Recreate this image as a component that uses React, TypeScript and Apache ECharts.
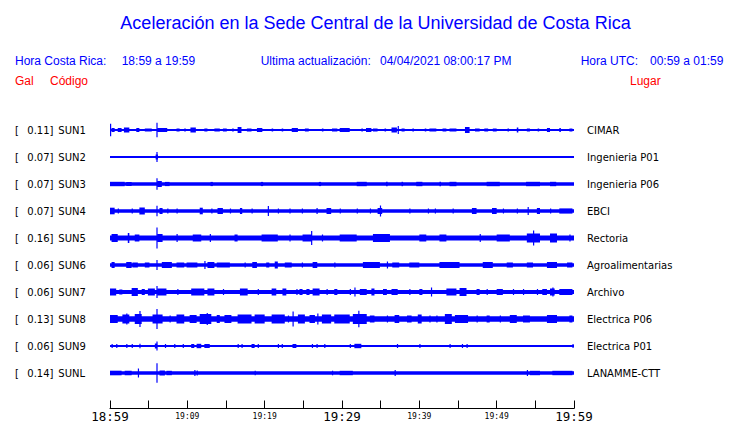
import React, { useEffect, useRef } from "react";
import * as echarts from "echarts";

// ---- data ----
const STATION_CODES = ["SUN1", "SUN2", "SUN3", "SUN4", "SUN5", "SUN6", "SUN7", "SUN8", "SUN9", "SUNL"];
const PEAK_GAL = ["0.11", "0.07", "0.07", "0.07", "0.16", "0.06", "0.06", "0.13", "0.06", "0.14"];
const PLACES = ["CIMAR", "Ingenieria P01", "Ingenieria P06", "EBCI", "Rectoria", "Agroalimentarias", "Archivo", "Electrica P06", "Electrica P01", "LANAMME-CTT"];
const TIME_LABELS = ["18:59", "19:09", "19:19", "19:29", "19:39", "19:49", "19:59"];
const WINDOW_MINUTES = 60;
// amplitude units: one row spacing = 27 units
const ROW_SPAN = 27;
const BASE_AMP = [0.9, 0.9, 1.8, 1.7, 2.4, 1.7, 1.9, 2.7, 0.9, 1.7];

// events: [start minute, end minute, half amplitude]
const SUN1_EVENTS = [
  [0, 0.1, 6.3], [0.2, 0.6, 2], [1.0, 1.5, 2], [1.8, 2.5, 2.5], [3.4, 3.8, 2], [4.5, 5.4, 1.5],
  [6.0, 6.1, 7.3], [6.1, 7.4, 2], [8.6, 9.0, 1.5], [9.6, 9.8, 1.5], [10.4, 11.1, 2.5], [12.2, 12.6, 1.5],
  [13.5, 14.2, 1.5], [14.6, 15.1, 1.5], [15.8, 16.0, 1.5], [16.5, 17.0, 3], [17.7, 18.3, 1.5], [19.0, 19.7, 2],
  [20.9, 21.1, 1.5], [22.2, 22.4, 1.5], [23.5, 24.3, 2], [25.2, 25.7, 1.5], [27.4, 27.6, 1.5], [28.7, 29.4, 1.5],
  [29.7, 31.0, 2], [32.5, 32.7, 1.5], [33.1, 33.8, 2], [34.0, 34.6, 1.5], [35.5, 35.7, 1.5], [36.4, 37.1, 2.5],
  [37.2, 37.3, 4], [37.7, 38.1, 1.5], [39.1, 39.3, 1.5], [40.7, 40.9, 1.5], [41.3, 42.2, 1.5], [43.0, 43.5, 1.5],
  [43.9, 44.8, 1.5], [45.9, 46.5, 3], [47.2, 47.8, 1.5], [48.4, 48.9, 1.5], [49.5, 50.0, 1.5], [51.4, 51.6, 1.5],
  [52.6, 52.8, 2.5], [53.9, 54.3, 1.5], [55.3, 55.5, 1.5], [56.5, 56.9, 2], [58.1, 58.3, 2], [59.4, 59.8, 1.5],
];
const SUN2_EVENTS = [[5.9, 6.2, 2.5], [6.0, 6.1, 5]];
const SUN3_EVENTS = [
  [0, 1.9, 2.2], [2.1, 2.8, 2], [6.0, 6.1, 5.8], [6.1, 6.7, 3], [7.1, 7.7, 2.1], [13.0, 13.3, 2.1],
  [19.5, 19.8, 2.1], [27.0, 27.3, 2.1], [31.9, 33.2, 2.2], [35.7, 35.9, 2.2], [37.7, 37.9, 2.2],
  [39.6, 40.4, 2.2], [42.6, 42.8, 2.2], [43.9, 44.8, 2.2], [48.7, 50.4, 2.2], [53.8, 55.6, 2.2], [56.9, 57.7, 2.2],
];
const SUN4_EVENTS = [
  [0, 0.6, 3.3], [1.0, 1.1, 2.5], [2.8, 2.9, 2.5], [3.8, 4.5, 3.5], [6.0, 6.1, 5.3], [6.4, 6.8, 3],
  [7.4, 7.5, 2.5], [8.6, 8.7, 2.5], [11.6, 12.0, 3.3], [13.1, 13.2, 2.5], [13.9, 14.6, 3], [15.5, 15.6, 2.5],
  [16.8, 17.1, 3], [18.3, 18.4, 2.5], [20.4, 20.5, 5], [21.7, 21.8, 2.5], [23.2, 23.3, 2.5], [24.8, 24.9, 2.5],
  [26.7, 26.8, 3], [28.0, 28.6, 3], [29.7, 29.8, 2.5], [31.9, 32.0, 2.5], [33.6, 33.7, 2.5], [34.6, 35.2, 3],
  [34.9, 35.0, 5.5], [38.7, 38.8, 2.5], [41.1, 41.2, 2.5], [42.0, 42.1, 2.5], [44.3, 44.4, 2.5], [46.8, 47.4, 3],
  [49.4, 50.0, 3], [50.8, 50.9, 2.5], [52.6, 52.7, 2.5], [54.0, 54.1, 4], [55.2, 55.6, 3], [56.9, 57.0, 2.5],
  [58.1, 59.8, 2.6],
];
const SUN5_EVENTS = [
  [0.2, 1.0, 4], [2.3, 2.5, 5], [3.2, 3.8, 3.5], [6.0, 6.1, 10.5], [6.1, 6.8, 4], [8.6, 8.7, 4],
  [10.7, 11.8, 3.5], [12.9, 13.0, 4], [16.1, 16.5, 3.5], [19.6, 21.7, 3.5], [23.2, 23.3, 3.5], [24.9, 26.1, 3.5],
  [26.0, 26.1, 7], [27.4, 27.5, 3.5], [29.7, 31.9, 3.5], [34.0, 36.2, 4], [40.0, 40.9, 3.5], [42.6, 43.5, 3.5],
  [47.8, 47.9, 4], [50.0, 51.7, 3.5], [53.9, 55.6, 4.5], [54.7, 54.8, 7.5], [56.9, 57.8, 4.5], [59.4, 59.5, 3.5],
];
const SUN6_EVENTS = [
  [0.2, 0.6, 3], [2.1, 2.8, 3], [2.9, 3.6, 2.5], [4.5, 5.1, 2.5], [6.0, 6.1, 5], [6.7, 8.0, 3],
  [8.6, 9.6, 2.5], [9.9, 11.3, 2.5], [12.2, 12.3, 4], [12.6, 13.5, 3], [13.8, 15.5, 2.5], [17.4, 17.5, 2.5],
  [18.4, 19.0, 3], [20.2, 20.6, 2.5], [21.3, 21.7, 3.5], [22.6, 23.5, 2.5], [24.8, 24.9, 2.5], [26.2, 26.8, 3],
  [29.0, 29.1, 2.5], [32.7, 34.9, 3], [35.8, 35.9, 3.5], [36.5, 37.4, 2.5], [38.7, 40.0, 2.5], [42.6, 45.2, 3],
  [48.2, 49.5, 3], [51.3, 52.1, 2.5], [53.9, 54.7, 2.5], [56.5, 57.8, 3], [59.1, 59.8, 2.5],
];
const SUN7_EVENTS = [
  [0, 0.8, 3.5], [1.2, 1.6, 2.5], [2.8, 3.6, 4], [4.1, 4.5, 3], [4.9, 5.8, 3.5], [6.0, 6.1, 6],
  [6.1, 7.3, 3.5], [8.7, 8.8, 3], [10.5, 12.2, 3.5], [12.6, 13.5, 3.5], [14.6, 14.7, 3], [16.8, 17.8, 3.5],
  [19.1, 19.2, 3], [20.9, 21.5, 3.5], [22.3, 22.8, 3.5], [24.1, 24.2, 3], [24.5, 24.9, 3], [25.4, 25.8, 3],
  [26.2, 27.1, 3.5], [28.0, 28.1, 3], [29.0, 29.4, 3], [31.0, 31.1, 3], [31.6, 31.7, 4.5], [32.3, 33.2, 3],
  [33.8, 34.2, 3.5], [35.3, 35.8, 3], [36.4, 37.2, 3], [38.7, 38.8, 3], [40.0, 40.4, 3], [41.5, 41.6, 4.5],
  [43.5, 44.8, 3.5], [45.2, 46.1, 4], [47.4, 47.8, 3], [48.7, 48.8, 3], [50.0, 50.8, 3], [52.1, 52.2, 3],
  [53.4, 53.5, 3], [55.2, 55.3, 3], [55.9, 56.5, 3], [56.9, 57.5, 3.5], [57.2, 57.3, 4.5], [58.1, 59.8, 3],
];
const SUN8_EVENTS = [
  [0, 1.0, 4], [1.6, 2.5, 4.5], [2.1, 2.2, 5.5], [3.2, 4.1, 5], [3.8, 3.9, 8], [5.5, 6.8, 4.5],
  [6.0, 6.1, 10], [7.7, 7.8, 3.5], [8.6, 9.6, 4.5], [10.3, 11.2, 4], [11.6, 13.1, 5], [12.5, 12.6, 6],
  [13.8, 14.2, 4], [14.8, 15.7, 4], [16.5, 18.3, 4.5], [18.7, 20.0, 4.5], [20.9, 22.6, 4.5], [23.0, 23.1, 3.5],
  [23.6, 23.7, 7.5], [24.3, 25.2, 4.5], [25.8, 26.5, 4], [26.8, 26.9, 5.5], [27.4, 28.6, 4.5], [29.0, 31.0, 4.5],
  [31.4, 33.2, 5], [32.1, 32.2, 8.3], [33.6, 34.2, 3.5], [35.8, 35.9, 3.5], [36.8, 37.4, 4], [38.4, 39.0, 3.5],
  [39.8, 40.3, 4.5], [41.3, 41.4, 3.5], [42.2, 42.3, 3.5], [43.3, 44.2, 5], [44.6, 46.3, 4], [47.4, 47.5, 3.5],
  [48.7, 49.1, 3.5], [50.4, 50.5, 3.5], [51.7, 52.6, 4], [53.4, 54.3, 3.5], [56.5, 57.8, 4], [59.4, 59.8, 3.5],
];
const SUN9_EVENTS = [
  [0.2, 0.3, 2], [0.8, 0.9, 2], [2.1, 2.2, 2], [2.8, 2.9, 2], [3.8, 3.9, 2.3], [5.8, 6.1, 2.5],
  [6.0, 6.1, 4.5], [7.1, 7.2, 2], [8.3, 8.4, 2], [9.4, 9.5, 2], [10.5, 10.9, 2], [11.2, 11.8, 2.2],
  [12.2, 12.9, 2], [16.5, 16.6, 2], [17.0, 17.1, 2], [18.3, 18.7, 2], [19.1, 19.2, 2], [21.7, 21.8, 2],
  [22.2, 22.3, 2], [23.6, 24.1, 2], [26.1, 26.2, 2], [26.7, 26.8, 2], [27.7, 27.8, 2], [31.0, 31.1, 2],
  [31.6, 32.5, 2.2], [37.1, 37.2, 2], [40.0, 40.1, 2], [43.9, 44.0, 2], [45.5, 45.6, 2], [46.1, 46.2, 2],
  [59.8, 59.9, 2],
];
const SUNL_EVENTS = [
  [0, 1.5, 2.3], [1.9, 2.8, 2.2], [3.6, 3.7, 4.5], [6.0, 6.1, 9.8], [6.4, 7.1, 2.5], [7.3, 8.0, 2.2],
  [10.9, 11.0, 3], [11.2, 11.3, 2.5], [18.7, 18.8, 2.3], [28.7, 28.8, 2.3], [29.7, 31.4, 2.2], [36.8, 36.9, 3],
  [53.9, 54.0, 3], [54.3, 55.6, 2.2], [57.2, 59.8, 2.2],
];
const EVENTS = [SUN1_EVENTS, SUN2_EVENTS, SUN3_EVENTS, SUN4_EVENTS, SUN5_EVENTS, SUN6_EVENTS, SUN7_EVENTS, SUN8_EVENTS, SUN9_EVENTS, SUNL_EVENTS];

const BLUE = "#0000ff";
const RED = "#ff0000";
const HEAD_FONT = "Liberation Sans";

export default function App() {
  const ref = useRef<HTMLDivElement>(null);
  useEffect(() => {
    if (!ref.current) return;
    const chart = echarts.init(ref.current, null, { renderer: "svg" });

    const traceData: number[][] = [];
    STATION_CODES.forEach((_, row) => {
      traceData.push([0, WINDOW_MINUTES, row, BASE_AMP[row]]);
      EVENTS[row].forEach((e) => traceData.push([e[0], e[1], row, e[2]]));
    });

    const headText = (text: string, x: number, y: number, fill: string, size = 12, align = "left") => ({
      type: "text",
      x,
      y,
      silent: true,
      style: { text, fill, fontSize: size, fontFamily: HEAD_FONT, align, verticalAlign: "middle" },
    });

    const labelFont = { fontFamily: "DejaVu Sans", fontSize: 10, color: "#000" };

    chart.setOption({
      animation: false,
      backgroundColor: "#fff",
      graphic: [
        headText("Aceleración en la Sede Central de la Universidad de Costa Rica", 375.5, 22.5, BLUE, 18, "center"),
        headText("Hora Costa Rica:", 15, 61, BLUE),
        headText("18:59 a 19:59", 121.7, 61, BLUE),
        headText("Ultima actualización:", 260.7, 61, BLUE),
        headText("04/04/2021 08:00:17 PM", 380, 61, BLUE),
        headText("Hora UTC:", 580.7, 61, BLUE),
        headText("00:59 a 01:59", 650, 61, BLUE),
        headText("Gal", 15, 81, RED),
        headText("Código", 50, 81, RED),
        headText("Lugar", 630, 81, RED),
      ],
      grid: [
        { left: 110, width: 464, top: 116.5, height: 270 },
        { left: 110, width: 464, top: 380, height: 29 },
      ],
      xAxis: [
        { type: "value", gridIndex: 0, min: 0, max: WINDOW_MINUTES, show: false },
        {
          type: "value",
          gridIndex: 1,
          min: 0,
          max: WINDOW_MINUTES,
          interval: 5,
          axisLine: { show: true, lineStyle: { color: "#000", width: 1 } },
          axisTick: { show: true, inside: true, length: 8, lineStyle: { color: "#000", width: 1 } },
          splitLine: { show: false },
          axisLabel: {
            margin: 1,
            showMinLabel: true,
            showMaxLabel: true,
            hideOverlap: false,
            formatter: (v: number) => {
              const m = Math.round(v);
              if (m % 10 !== 0) return "";
              const lab = TIME_LABELS[m / 10];
              return m % 30 === 0 ? `{big|${lab}}` : `{small|${lab}}`;
            },
            rich: {
              big: { fontFamily: "DejaVu Sans Mono", fontSize: 12.5, color: "#000", lineHeight: 14 },
              small: { fontFamily: "DejaVu Sans Mono", fontSize: 8, color: "#000", lineHeight: 14 },
            },
          },
        },
      ],
      yAxis: [
        {
          type: "category",
          gridIndex: 0,
          data: STATION_CODES,
          inverse: true,
          position: "left",
          axisLine: { show: false },
          axisTick: { show: false },
          splitLine: { show: false },
          axisLabel: {
            align: "left",
            margin: 95,
            formatter: (v: string, i: number) => `{a|[}{b|${PEAK_GAL[i]}]}{c|${v}}`,
            rich: {
              a: { ...labelFont, width: 12.3 },
              b: { ...labelFont, width: 31 },
              c: { ...labelFont },
            },
          },
        },
        {
          type: "category",
          gridIndex: 0,
          data: PLACES,
          inverse: true,
          position: "right",
          axisLine: { show: false },
          axisTick: { show: false },
          splitLine: { show: false },
          axisLabel: { align: "left", margin: 13, ...labelFont },
        },
        { type: "value", gridIndex: 1, show: false, min: 0, max: 1 },
      ],
      series: [
        {
          type: "custom",
          xAxisIndex: 0,
          yAxisIndex: 0,
          clip: false,
          encode: { x: [0, 1], y: 2 },
          data: traceData,
          renderItem: (_params: any, api: any) => {
            const t0 = api.value(0);
            const t1 = api.value(1);
            const row = api.value(2);
            const amp = api.value(3);
            const p0 = api.coord([t0, row]);
            const p1 = api.coord([t1, row]);
            const band = api.size([0, 1])[1];
            const h = Math.max(1, (2 * amp * band) / ROW_SPAN);
            const w = Math.max(1.2, p1[0] - p0[0]);
            return {
              type: "rect",
              shape: { x: p0[0], y: p0[1] - h / 2, width: w, height: h },
              style: { fill: BLUE },
            };
          },
        },
      ],
    });
    return () => chart.dispose();
  }, []);
  return <div ref={ref} style={{ position: "absolute", left: 0, top: 0, width: 740, height: 423 }} />;
}
